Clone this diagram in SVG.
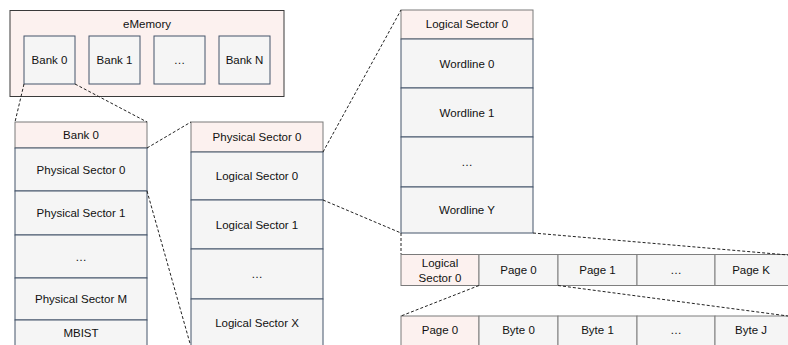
<svg xmlns="http://www.w3.org/2000/svg" width="788" height="345" viewBox="0 0 788 345">
<style>
text{font-family:"Liberation Sans",Arial,sans-serif;font-size:11.5px;fill:#111;text-anchor:middle;dominant-baseline:central}
.hdr{fill:#fcf1ef;stroke:#7a7a7a;stroke-width:1}
.cell{fill:#f5f5f5;stroke:#44546a;stroke-width:1}
.gcell{fill:#f5f5f5;stroke:#7f7f7f;stroke-width:1}
.outer{fill:#fcf1ef;stroke:#3a3a3a;stroke-width:1}
.dash{fill:none;stroke:#222;stroke-width:1;stroke-dasharray:3 2}
</style>
<rect width="788" height="345" fill="#ffffff"/>
<g id="eMemory">
<rect class="outer" x="10" y="10.5" width="274" height="86"/>
<text x="147" y="24">eMemory</text>
</g>
<g id="bank0"><rect class="cell" x="24" y="36" width="51" height="48"/><text x="49.5" y="60">Bank 0</text></g>
<g id="bank1"><rect class="cell" x="89" y="36" width="51" height="48"/><text x="114.5" y="60">Bank 1</text></g>
<g id="bankdots"><rect class="cell" x="154" y="36" width="51" height="48"/><text x="179.5" y="60">…</text></g>
<g id="bankN"><rect class="cell" x="219" y="36" width="51" height="48"/><text x="244.5" y="60">Bank N</text></g>

<g id="col1">
<rect class="hdr" x="15" y="122" width="132" height="26"/><text x="81" y="135">Bank 0</text>
<rect class="cell" x="15" y="148" width="132" height="43"/><text x="81" y="170">Physical Sector 0</text>
<rect class="cell" x="15" y="191" width="132" height="44"/><text x="81" y="213">Physical Sector 1</text>
<rect class="cell" x="15" y="235" width="132" height="43"/><text x="81" y="257">…</text>
<rect class="cell" x="15" y="278" width="132" height="42"/><text x="81" y="299">Physical Sector M</text>
<rect class="cell" x="15" y="320" width="132" height="30"/><text x="81" y="333">MBIST</text>
</g>

<g id="col2">
<rect class="hdr" x="191" y="122" width="132" height="30"/><text x="257" y="137">Physical Sector 0</text>
<rect class="cell" x="191" y="152" width="132" height="48"/><text x="257" y="176">Logical Sector 0</text>
<rect class="cell" x="191" y="200" width="132" height="49"/><text x="257" y="225">Logical Sector 1</text>
<rect class="cell" x="191" y="249" width="132" height="50"/><text x="257" y="274">…</text>
<rect class="cell" x="191" y="299" width="132" height="50"/><text x="257" y="323">Logical Sector X</text>
</g>

<g id="col3">
<rect class="hdr" x="401" y="10" width="132" height="29"/><text x="467" y="24">Logical Sector 0</text>
<rect class="cell" x="401" y="39" width="132" height="49"/><text x="467" y="64">Wordline 0</text>
<rect class="cell" x="401" y="88" width="132" height="49"/><text x="467" y="113">Wordline 1</text>
<rect class="cell" x="401" y="137" width="132" height="50"/><text x="467" y="162">…</text>
<rect class="cell" x="401" y="187" width="132" height="46"/><text x="467" y="210">Wordline Y</text>
</g>

<g id="row4">
<rect class="hdr" x="401" y="254.5" width="78" height="31"/><text x="440" y="263">Logical</text><text x="440" y="278">Sector 0</text>
<rect class="gcell" x="479" y="254.5" width="79" height="31"/><text x="518.5" y="270">Page 0</text>
<rect class="gcell" x="558" y="254.5" width="79" height="31"/><text x="597.5" y="270">Page 1</text>
<rect class="gcell" x="637" y="254.5" width="78" height="31"/><text x="676" y="270">…</text>
<rect class="gcell" x="715" y="254.5" width="80" height="31"/><text x="751" y="270">Page K</text>
</g>

<g id="row5">
<rect class="hdr" x="401" y="316" width="78" height="40"/><text x="440" y="330">Page 0</text>
<rect class="gcell" x="479" y="316" width="79" height="40"/><text x="518.5" y="330">Byte 0</text>
<rect class="gcell" x="558" y="316" width="79" height="40"/><text x="597.5" y="330">Byte 1</text>
<rect class="gcell" x="637" y="316" width="78" height="40"/><text x="676" y="330">…</text>
<rect class="gcell" x="715" y="316" width="80" height="40"/><text x="751" y="330">Byte J</text>
</g>

<g id="connectors">
<line class="dash" x1="24" y1="84" x2="15" y2="122"/>
<line class="dash" x1="75" y1="84" x2="147" y2="122"/>
<line class="dash" x1="147" y1="148" x2="191" y2="122"/>
<line class="dash" x1="147" y1="191" x2="191" y2="347"/>
<line class="dash" x1="323" y1="152" x2="401" y2="10"/>
<line class="dash" x1="323" y1="200" x2="401" y2="233"/>
<line class="dash" x1="401" y1="233" x2="401" y2="254"/>
<line class="dash" x1="533" y1="233" x2="788" y2="255"/>
<line class="dash" x1="479" y1="285.5" x2="401" y2="316"/>
<line class="dash" x1="558" y1="285.5" x2="788" y2="316"/>
</g>
</svg>
